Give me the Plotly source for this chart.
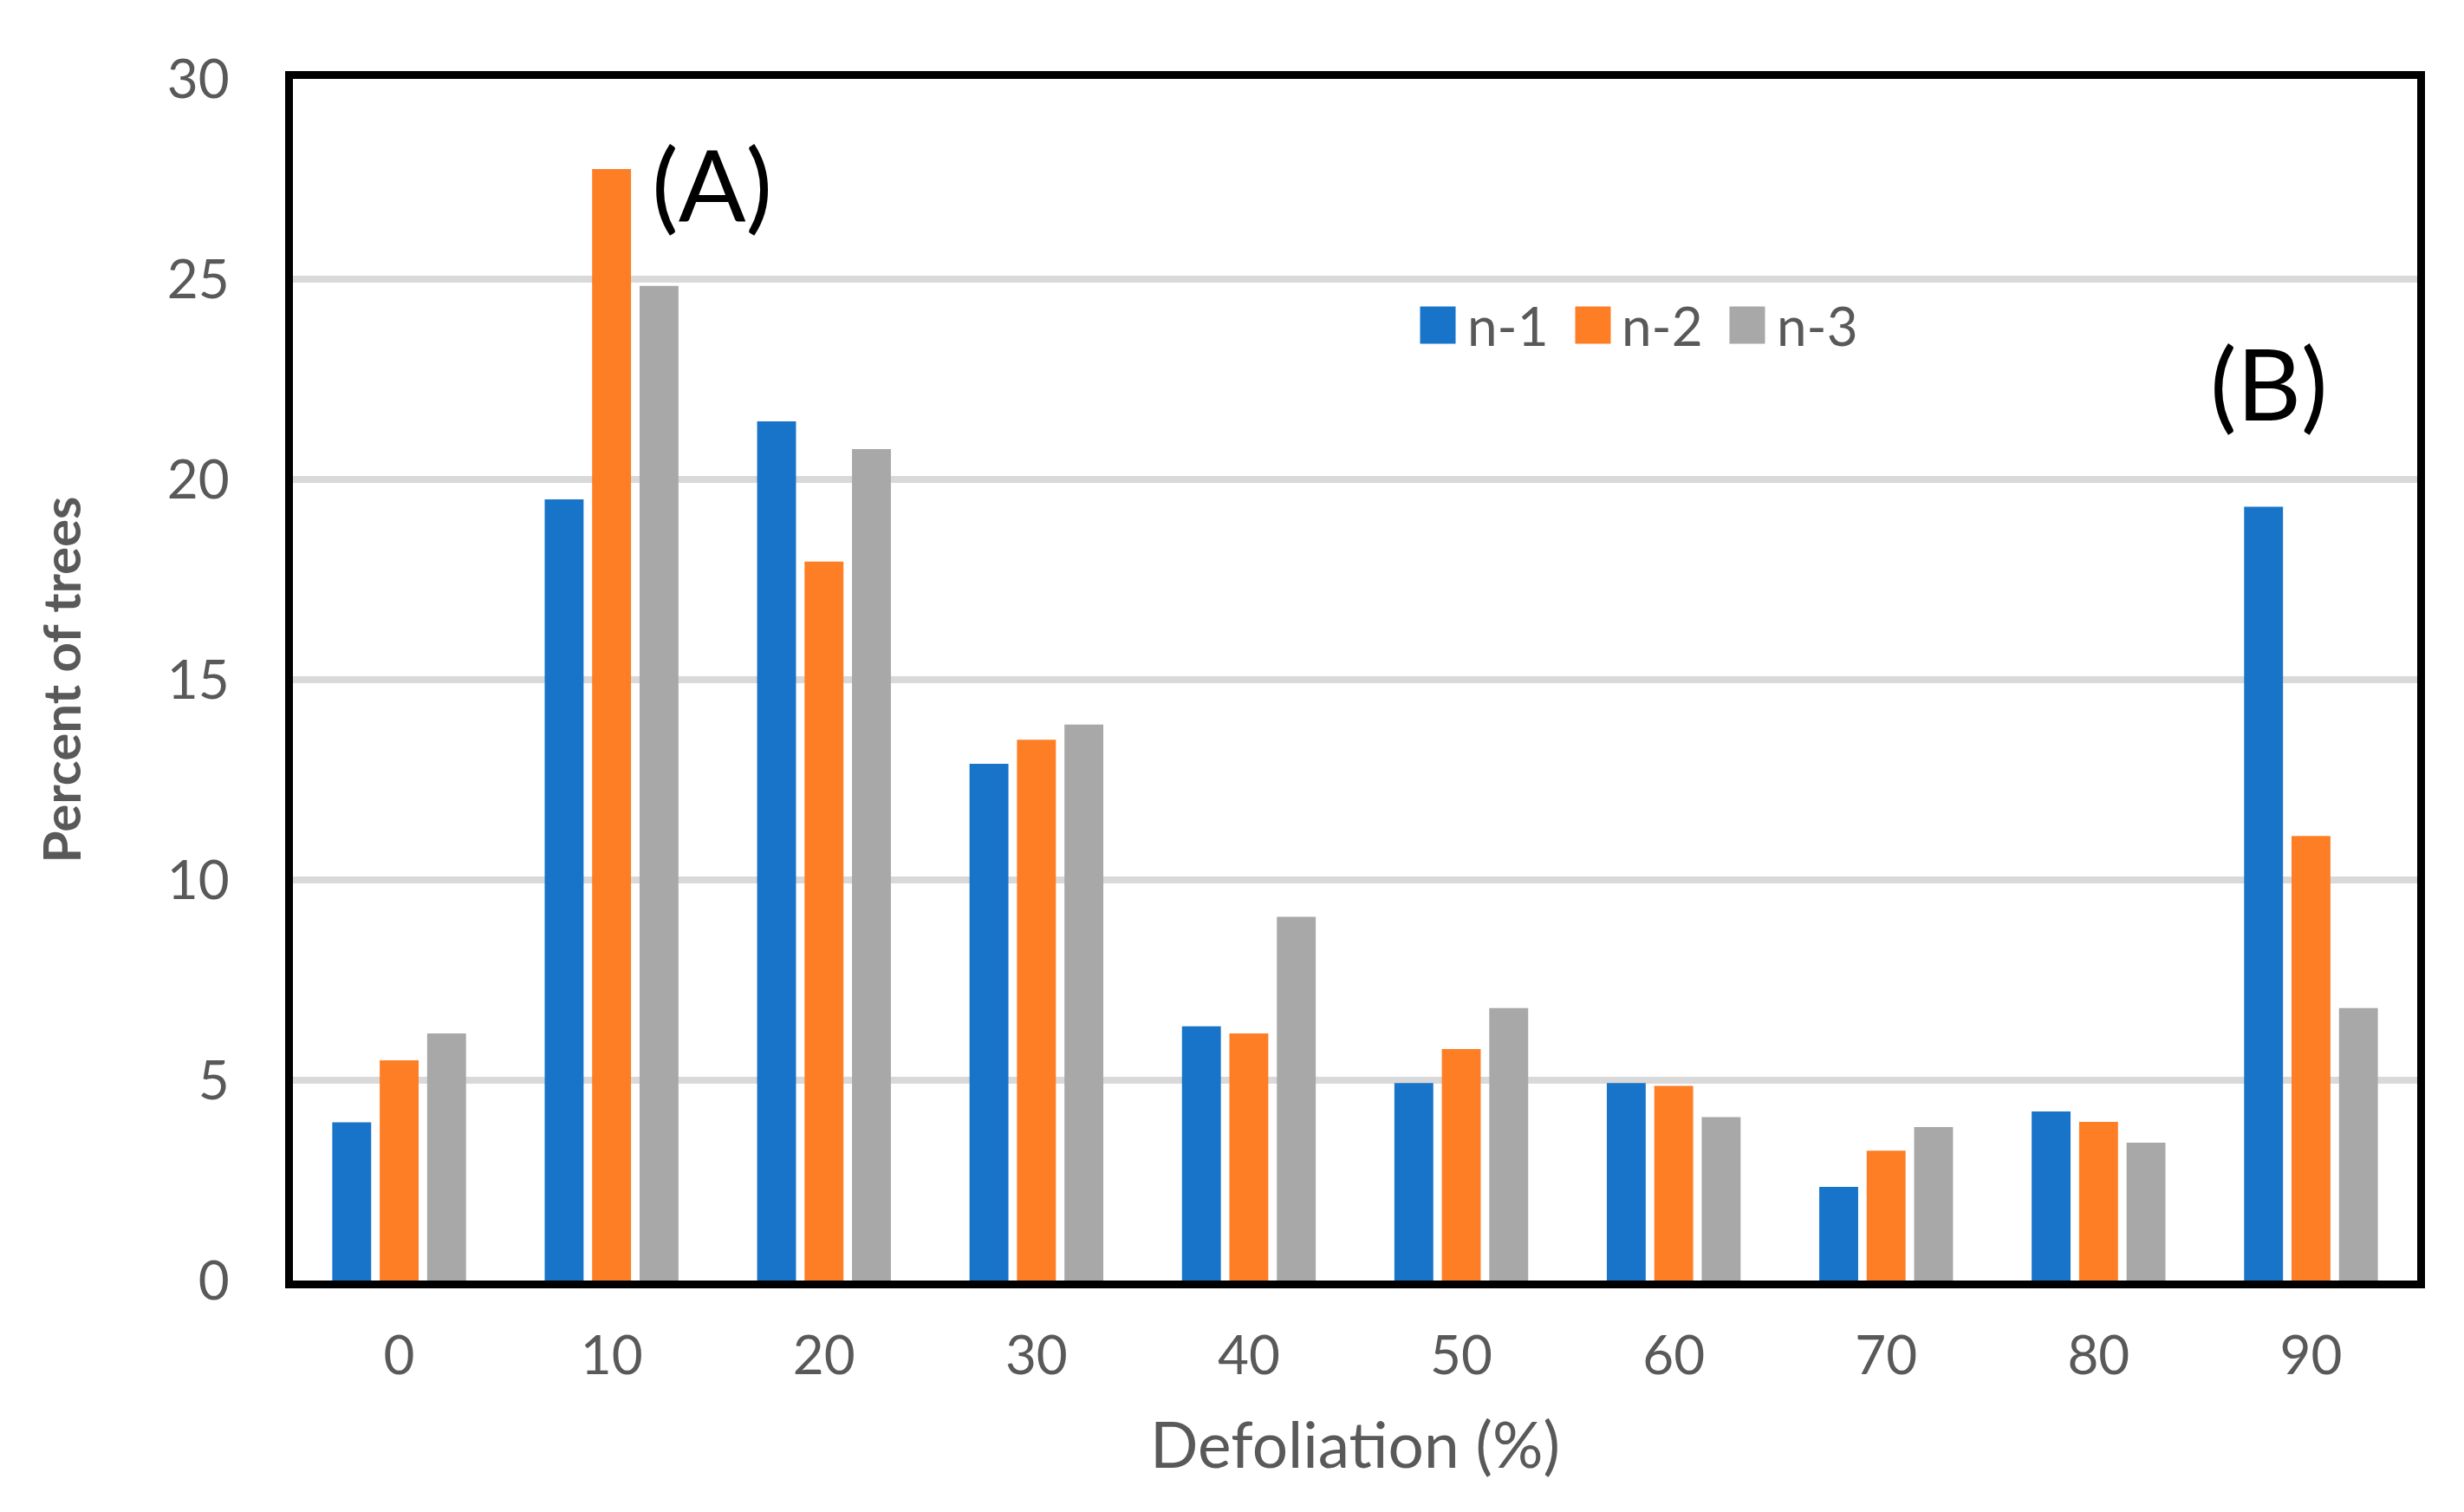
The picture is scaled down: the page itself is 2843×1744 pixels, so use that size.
import plotly.graph_objects as go

categories = ["0", "10", "20", "30", "40", "50", "60", "70", "80", "90"]
series_names = ["n-1", "n-2", "n-3"]
n1 = [3.95, 19.5, 21.45, 12.9, 6.35, 4.93, 4.93, 2.34, 4.22, 19.32]
n2 = [5.5, 27.75, 17.95, 13.5, 6.17, 5.78, 4.86, 3.24, 3.96, 11.1]
n3 = [6.17, 24.83, 20.76, 13.88, 9.08, 6.8, 4.08, 3.83, 3.44, 6.8]
colors = ["#1874c9", "#fe7e26", "#a8a8a8"]
y_ticks = [0, 5, 10, 15, 20, 25, 30]

FONT = "Lato"
GRAY = "#595959"
W, H = 2843, 1744
PL, PR, PT, PB = 330, 2781, 83, 1469


def px(x):
    return (x - PL) / (PR - PL)


def py(y):
    return (PB - y) / (PB - PT)


fig = go.Figure()
for name, vals, col in zip(series_names, [n1, n2, n3], colors):
    fig.add_trace(go.Bar(x=categories, y=vals, name=name,
                         marker=dict(color=col, line=dict(width=0))))

annotations = [
    dict(text="(A)", x=px(813), y=py(202), xref="paper", yref="paper",
         xanchor="center", yanchor="middle", showarrow=False,
         font=dict(family=FONT, size=115, color="black")),
    dict(text="(B)", x=px(2610), y=py(432), xref="paper", yref="paper",
         xanchor="center", yanchor="middle", showarrow=False,
         font=dict(family=FONT, size=115, color="black")),
]

# legend drawn as coloured keys + labels
LEG_X0, LEG_STEP, LEG_Y, SQ, GAP = 1630, 178.5, 367, 40, 14
for i, (name, col) in enumerate(zip(series_names, colors)):
    x0 = LEG_X0 + i * LEG_STEP
    annotations.append(dict(text=" ", x=px(x0), y=py(LEG_Y), xref="paper", yref="paper",
                            xanchor="left", yanchor="middle", showarrow=False,
                            width=SQ, height=SQ + 2, bgcolor=col, borderpad=0,
                            font=dict(size=10)))
    annotations.append(dict(text=name, x=px(x0 + SQ + GAP), y=py(LEG_Y), xref="paper", yref="paper",
                            xanchor="left", yanchor="middle", showarrow=False, borderpad=0,
                            font=dict(family=FONT, size=62, color=GRAY)))

fig.update_layout(
    width=W, height=H,
    margin=dict(l=PL, r=W - PR, t=PT, b=H - PB),
    paper_bgcolor="white", plot_bgcolor="white",
    barmode="group", bargap=0.33, bargroupgap=0.18,
    font=dict(family=FONT, color=GRAY),
    showlegend=False,
    annotations=annotations,
)

fig.update_xaxes(
    type="category", categoryorder="array", categoryarray=categories,
    showline=True, linecolor="black", linewidth=9, mirror=True,
    showgrid=False, ticks="", ticklabelstandoff=25,
    tickfont=dict(family=FONT, size=62, color=GRAY),
    title=dict(text="Defoliation (%)", font=dict(family=FONT, size=73, color=GRAY), standoff=48),
)
fig.update_yaxes(
    range=[0, 30], tickvals=y_ticks, ticktext=[str(t) for t in y_ticks],
    showline=True, linecolor="black", linewidth=9, mirror=True,
    showgrid=True, gridcolor="#d9d9d9", gridwidth=8, zeroline=False,
    ticks="", ticklabelstandoff=52,
    tickfont=dict(family=FONT, size=62, color=GRAY),
    title=dict(text="<b>Percent of trees</b>", font=dict(family=FONT, size=60, color=GRAY), standoff=83),
)

fig.write_html("out.html")
